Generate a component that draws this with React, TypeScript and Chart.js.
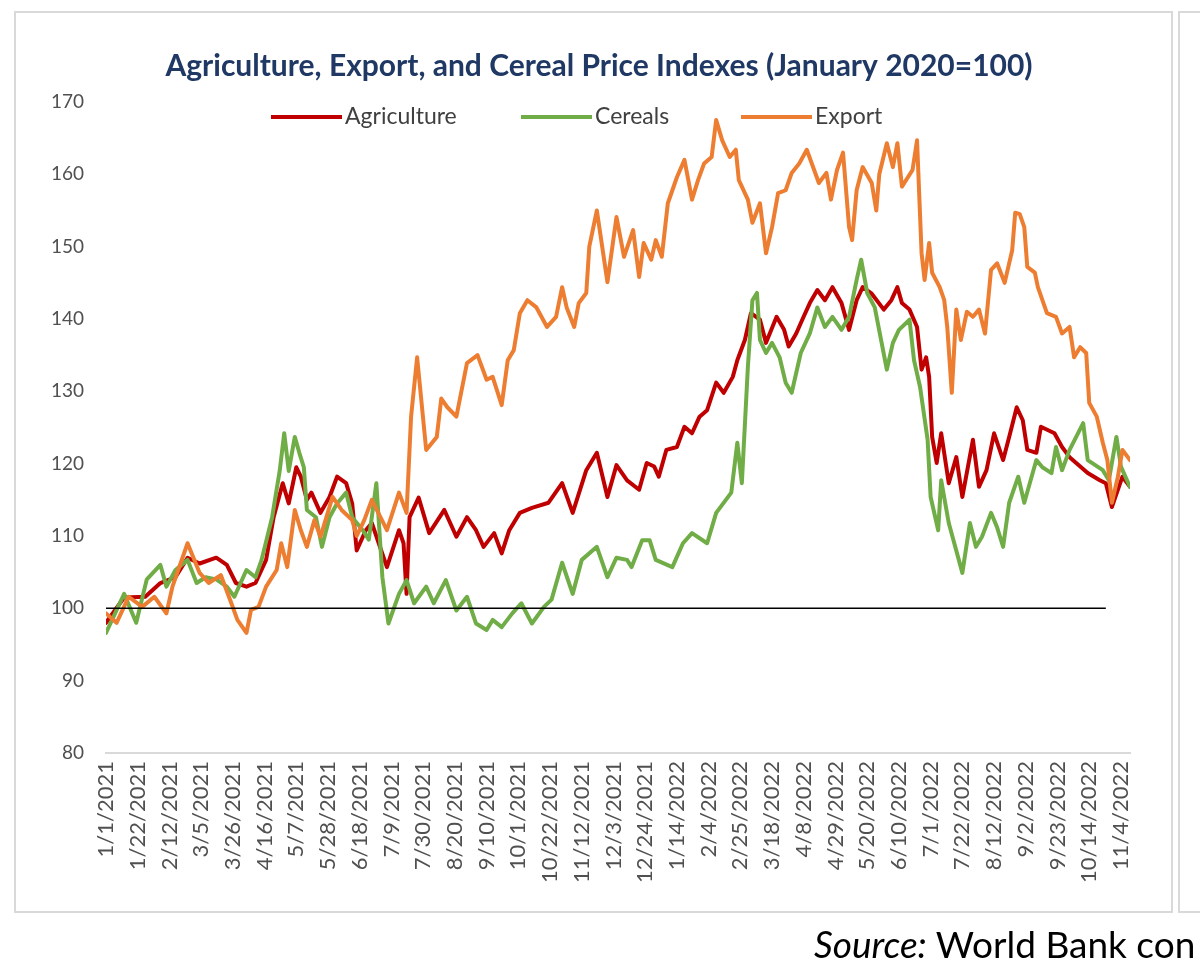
import React, { useEffect, useRef } from "react";
import { Chart, registerables } from "chart.js";

Chart.register(...registerables);

const TITLE = "Agriculture, Export, and Cereal Price Indexes (January 2020=100)";
const SERIES_NAMES = ["Agriculture", "Cereals", "Export"];
const SERIES_COLORS = ["#C00000", "#70AD47", "#ED7D31"];

const tickLabels = [
  "1/1/2021", "1/22/2021", "2/12/2021", "3/5/2021", "3/26/2021", "4/16/2021", "5/7/2021",
  "5/28/2021", "6/18/2021", "7/9/2021", "7/30/2021", "8/20/2021", "9/10/2021", "10/1/2021",
  "10/22/2021", "11/12/2021", "12/3/2021", "12/24/2021", "1/14/2022", "2/4/2022", "2/25/2022",
  "3/18/2022", "4/8/2022", "4/29/2022", "5/20/2022", "6/10/2022", "7/1/2022", "7/22/2022",
  "8/12/2022", "9/2/2022", "9/23/2022", "10/14/2022", "11/4/2022",
];

// days since 1/1/2021
const agricultureDays = [
  0, 12, 26, 36, 46, 54, 62, 73, 80, 86,
  93, 99, 106, 111, 117, 121, 126, 129, 133, 136,
  142, 148, 153, 159, 163, 166, 172, 176, 186, 194,
  197, 199, 201, 207, 214, 224, 232, 239, 245, 250,
  257, 262, 267, 274, 282, 293, 302, 309, 318, 325,
  332, 338, 345, 353, 358, 363, 366, 371, 378, 383,
  388, 393, 398, 404, 409, 415, 418, 423, 427, 433,
  437, 444, 449, 452, 457, 461, 466, 471, 476, 481,
  487, 492, 497, 501, 507, 515, 520, 524, 527, 532,
  537, 540, 543, 545, 547, 550, 553, 558, 563, 567,
  574, 578, 583, 588, 594, 598, 603, 607, 610, 616,
  619, 628, 633, 638, 650, 658, 662, 666, 670, 673,
  678,
];
const agricultureValues = [
  98, 101.5, 101.6, 103.5, 104.3, 107, 106.2, 107, 106, 103.5,
  103, 103.5, 106.7, 112.6, 117.3, 114.5, 119.5, 118.2, 115, 116,
  113.2, 115.4, 118.2, 117.3, 114.5, 108, 110.8, 111.8, 105.7, 110.8,
  109, 102, 112.6, 115.3, 110.4, 113.6, 109.9, 112.6, 110.8, 108.5,
  110.4, 107.6, 110.8, 113.2, 113.9, 114.6, 117.3, 113.2, 119.1, 121.5,
  115.4, 119.8, 117.7, 116.4, 120.1, 119.6, 118.2, 121.9, 122.3, 125.1,
  124.2, 126.5, 127.4, 131.2, 129.8, 132, 134.3, 137.1, 140.8, 139.9,
  136.7, 140.3, 138.5, 136.2, 138, 139.9, 142.2, 144, 142.6, 144.4,
  142.2, 138.5, 142.6, 144.4, 143.5, 141.3, 142.6, 144.4, 142.2, 141.3,
  138.9, 133, 134.7, 132, 123.7, 120.1, 124.2, 117.3, 120.9, 115.4,
  123.3, 116.8, 119.1, 124.2, 120.5, 123.7, 127.8, 126, 121.9, 121.5,
  125.1, 124.2, 122.3, 120.9, 118.7, 117.7, 117.3, 114, 116.4, 118.2,
  116.8,
];

const cerealsDays = [
  0, 12, 20, 27, 36, 40, 46, 54, 60, 66,
  73, 80, 85, 93, 99, 103, 110, 115, 118, 121,
  125, 128, 131, 133, 139, 143, 148, 153, 159, 163,
  170, 174, 179, 183, 187, 194, 199, 204, 212, 217,
  225, 232, 239, 245, 252, 256, 262, 269, 275, 282,
  290, 295, 302, 309, 315, 325, 332, 338, 345, 348,
  355, 360, 364, 375, 382, 388, 398, 404, 414, 418,
  421, 425, 428, 431, 433, 437, 441, 446, 450, 454,
  460, 466, 471, 476, 481, 487, 492, 497, 500, 504,
  509, 517, 521, 525, 532, 535, 539, 544, 546, 551,
  553, 558, 567, 572, 576, 580, 586, 590, 594, 598,
  604, 608, 616, 620, 626, 629, 633, 638, 647, 650,
  660, 664, 669, 672, 678,
];
const cerealsValues = [
  96.6, 102, 98, 104, 106, 103, 105.3, 106.7, 103.5, 104.3,
  104, 103, 101.6, 105.3, 104.3, 106.7, 112.6, 119, 124.2, 119,
  123.7, 121.5, 119.5, 113.6, 112.6, 108.5, 112.6, 114.5, 116, 112.6,
  110.8, 109.5, 117.3, 104.3, 97.9, 102, 103.9, 100.7, 103, 100.7,
  103.9, 99.7, 101.6, 97.9, 97, 98.4, 97.4, 99.3, 100.7, 97.9,
  100.2, 101.2, 106.3, 102, 106.7, 108.5, 104.3, 107, 106.7, 105.7,
  109.4, 109.4, 106.7, 105.7, 109, 110.4, 109, 113.2, 116, 122.9,
  117.3, 133.4, 142.6, 143.6, 137.1, 135.3, 136.7, 134.7, 131.2, 129.8,
  135.3, 138, 141.6, 138.9, 140.3, 138.5, 140.3, 145.4, 148.2, 143.6,
  141.6, 133, 136.7, 138.5, 139.9, 134.3, 130.6, 123.3, 115.4, 110.8,
  117.7, 111.8, 104.9, 111.8, 108.5, 109.9, 113.2, 111.2, 108.5, 114.6,
  118.2, 114.6, 120.5, 119.5, 118.7, 122.3, 119.1, 121.9, 125.6, 120.5,
  119.1, 117.7, 123.7, 119.6, 116.8,
];

const exportDays = [
  0, 7, 15, 24, 32, 40, 44, 54, 62, 68,
  76, 83, 87, 93, 96, 101, 106, 113, 116, 120,
  125, 129, 133, 138, 142, 150, 156, 163, 166, 171,
  176, 186, 194, 199, 202, 206, 212, 219, 222, 226,
  232, 239, 246, 252, 256, 262, 266, 270, 274, 279,
  285, 292, 298, 302, 305, 310, 313, 318, 320, 325,
  332, 338, 343, 349, 353, 356, 361, 364, 368, 372,
  378, 383, 388, 392, 396, 401, 404, 408, 413, 417,
  419, 425, 428, 433, 437, 441, 445, 450, 454, 459,
  464, 472, 477, 480, 484, 488, 492, 494, 497, 501,
  507, 510, 512, 517, 521, 524, 527, 534, 537, 540,
  542, 545, 547, 552, 555, 557, 560, 563, 566, 570,
  574, 578, 582, 586, 590, 595, 600, 602, 605, 608,
  610, 615, 617, 623, 629, 633, 638, 641, 645, 649,
  651, 656, 660, 663, 666, 670, 673, 678,
];
const exportValues = [
  99.3, 98, 101.6, 100.2, 101.6, 99.3, 103, 109, 104.9, 103.5,
  104.6, 100.7, 98.4, 96.6, 99.8, 100.2, 103, 105.3, 109, 105.7,
  113.6, 110.8, 108.5, 112.2, 109.9, 115.4, 113.6, 112.2, 110, 112.2,
  115, 110.8, 116, 113.2, 126.5, 134.7, 121.9, 123.7, 129, 127.8,
  126.5, 133.9, 135, 131.6, 132, 128.1, 134.3, 135.7, 140.8, 142.6,
  141.6, 138.9, 140.3, 144.4, 141.6, 138.9, 142.2, 143.6, 150, 155,
  145.1, 154.1, 148.6, 152.3, 145.8, 150.5, 148.2, 150.9, 148.6, 156,
  159.6, 162, 156.5, 159.2, 161.5, 162.4, 167.5, 164.7, 162.4, 163.4,
  159.2, 156.5, 153.3, 156, 149.1, 152.7, 157.4, 157.8, 160.2, 161.5,
  163.4, 158.8, 160.2, 156.5, 160.6, 163, 152.7, 150.9, 157.8, 161,
  158.8, 155, 160, 164.3, 161, 164.3, 158.3, 160.6, 164.7, 149.1,
  145.4, 150.5, 146.4, 144.4, 142.6, 138.9, 129.8, 141.3, 137.1, 141,
  140.3, 141.3, 138, 146.8, 147.7, 145, 149.5, 154.7, 154.5, 152.7,
  147.2, 146.4, 144.4, 140.8, 140.3, 138, 138.9, 134.7, 136.1, 135.3,
  128.4, 126.5, 122.9, 120.5, 114.6, 118.2, 121.9, 120.5,
];

const baselineDays = [0, 662];
const baselineValues = [100, 100];

const START = Date.UTC(2021, 0, 1);
const dayOf = (label: string) => {
  const [m, d, y] = label.split("/").map(Number);
  return Math.round((Date.UTC(y, m - 1, d) - START) / 86400000);
};
const tickDays = tickLabels.map(dayOf);

const toPoints = (days: number[], values: number[]) =>
  days.map((d, i) => ({ x: d, y: values[i] }));

const FONT = "Lato, 'Open Sans', sans-serif";

const overlayPlugin = {
  id: "titleLegend",
  afterDraw(chart: any) {
    const ctx = chart.ctx as CanvasRenderingContext2D;
    ctx.save();
    ctx.font = `bold 30px ${FONT}`;
    ctx.fillStyle = "#1F3864";
    ctx.textAlign = "center";
    ctx.textBaseline = "middle";
    ctx.fillText(TITLE, 599, 66);

    const itemStarts = [271, 521, 741];
    const y = 117;
    ctx.font = `23px ${FONT}`;
    ctx.textAlign = "left";
    SERIES_NAMES.forEach((name, i) => {
      const ds = chart.data.datasets.find((d: any) => d.label === name);
      if (!ds) return;
      const x0 = itemStarts[i];
      ctx.strokeStyle = ds.borderColor;
      ctx.lineWidth = 4;
      ctx.lineCap = "butt";
      ctx.beginPath();
      ctx.moveTo(x0, y);
      ctx.lineTo(x0 + 71, y);
      ctx.stroke();
      ctx.fillStyle = "#404040";
      ctx.fillText(name, x0 + 74, y);
    });
    ctx.restore();
  },
};

export default function App() {
  const ref = useRef<HTMLCanvasElement | null>(null);

  useEffect(() => {
    if (!ref.current) return;
    const seriesDays = [agricultureDays, cerealsDays, exportDays];
    const seriesValues = [agricultureValues, cerealsValues, exportValues];
    const datasets: any[] = [
      {
        label: "baseline",
        data: toPoints(baselineDays, baselineValues),
        borderColor: "#000000",
        borderWidth: 1.5,
        pointRadius: 0,
        order: 0,
      },
    ];
    SERIES_NAMES.forEach((name, i) => {
      datasets.push({
        label: name,
        data: toPoints(seriesDays[i], seriesValues[i]),
        borderColor: SERIES_COLORS[i],
        backgroundColor: SERIES_COLORS[i],
        borderWidth: 4,
        pointRadius: 0,
        tension: 0,
        borderJoinStyle: "round",
        borderCapStyle: "round",
        order: 3 - i,
      });
    });

    const chart = new Chart(ref.current, {
      type: "line",
      data: { datasets },
      plugins: [overlayPlugin],
      options: {
        animation: false,
        responsive: false,
        layout: { padding: { left: 0, right: 70, top: 102, bottom: 0 } },
        plugins: {
          legend: { display: false },
          title: { display: false },
          tooltip: { enabled: false },
        },
        scales: {
          x: {
            type: "linear",
            min: 0,
            max: 678,
            afterBuildTicks: (scale: any) => {
              scale.ticks = tickDays.map((v) => ({ value: v }));
            },
            afterFit: (scale: any) => {
              scale.height = 218;
            },
            ticks: {
              autoSkip: false,
              minRotation: 90,
              maxRotation: 90,
              padding: 8,
              color: "#505050",
              font: { family: FONT, size: 22 },
              callback: (_v: any, i: number) => tickLabels[i],
            },
            grid: { display: false, drawTicks: false },
            border: { display: true, color: "#d9d9d9", width: 2 },
          },
          y: {
            min: 80,
            max: 170,
            afterFit: (scale: any) => {
              scale.width = 106;
            },
            ticks: {
              stepSize: 10,
              padding: 22,
              color: "#505050",
              font: { family: FONT, size: 19 },
            },
            grid: { display: false, drawTicks: false },
            border: { display: false },
          },
        },
      } as any,
    });
    return () => chart.destroy();
  }, []);

  return (
    <div
      style={{
        position: "fixed",
        left: 0,
        top: 0,
        width: 1200,
        height: 971,
        background: "#ffffff",
        overflow: "hidden",
      }}
    >
      <div
        style={{
          position: "absolute",
          left: 14,
          top: 11,
          width: 1159,
          height: 902,
          border: "2px solid #d9d9d9",
          boxSizing: "border-box",
        }}
      />
      <div
        style={{
          position: "absolute",
          left: 1178,
          top: 11,
          width: 60,
          height: 902,
          border: "2px solid #d9d9d9",
          boxSizing: "border-box",
        }}
      />
      <canvas
        ref={ref}
        width={1200}
        height={971}
        style={{ position: "absolute", left: 0, top: 0, width: 1200, height: 971 }}
      />
      <div
        style={{
          position: "absolute",
          left: 814,
          top: 922,
          whiteSpace: "nowrap",
          fontFamily: FONT,
          fontSize: 37,
          lineHeight: "44px",
          color: "#000000",
        }}
      >
        <i>Source:</i> World Bank con
      </div>
    </div>
  );
}
